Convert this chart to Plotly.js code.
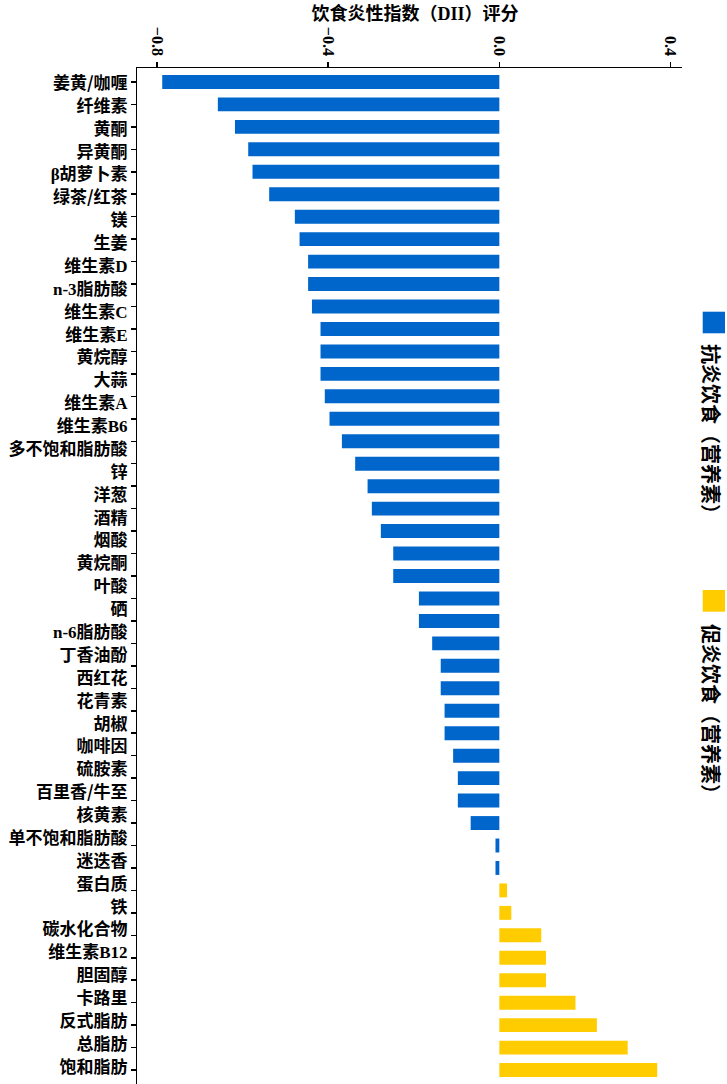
<!DOCTYPE html>
<html><head><meta charset="utf-8">
<script src="https://cdn.plot.ly/plotly-3.0.1.min.js"></script>
<style>html,body{margin:0;padding:0;background:#fff;} #chart{width:727px;height:1084px;}</style>
</head><body><div id="chart"></div>
<script>
// y-axis labels as printed (44 labels)
const labels = ['姜黄/咖喱','纤维素','黄酮','异黄酮','β胡萝卜素','绿茶/红茶','镁','生姜','维生素D','n-3脂肪酸',
  '维生素C','维生素E','黄烷醇','大蒜','维生素A','维生素B6','多不饱和脂肪酸','锌','洋葱','酒精',
  '烟酸','黄烷酮','叶酸','硒','n-6脂肪酸','丁香油酚','西红花','花青素','胡椒','咖啡因',
  '硫胺素','百里香/牛至','核黄素','单不饱和脂肪酸','迷迭香','蛋白质','铁','碳水化合物','维生素B12','胆固醇',
  '卡路里','反式脂肪','总脂肪','饱和脂肪'];
// DII scores of the 45 drawn bars, top to bottom
const dii = [-0.788,-0.658,-0.618,-0.587,-0.577,-0.538,-0.478,-0.467,-0.447,-0.447,
  -0.438,-0.418,-0.418,-0.418,-0.408,-0.397,-0.368,-0.337,-0.308,-0.298,
  -0.277,-0.248,-0.248,-0.188,-0.188,-0.157,-0.137,-0.137,-0.128,-0.128,
  -0.108,-0.097,-0.097,-0.067,-0.009,-0.009,0.018,0.028,0.098,0.109,
  0.109,0.178,0.228,0.300,0.369];
const xTickVals = [-0.8,-0.4,0,0.4];
const xTickText = ['−0.8','−0.4','0.0','0.4'];
const legendNames = ['抗炎饮食（营养素）','促炎饮食（营养素）'];
const titleText = '饮食炎性指数（DII）评分';

const BLUE = '#0066cc', YELLOW = '#ffcc00';
const serif = s => s.replace(/([A-Za-z0-9β\-]+)/g, '<span style="font-family:Liberation Serif">$1</span>');

const W = 727, H = 1084;
const M = {l:137, r:45, t:68, b:0};
const pw = W - M.l - M.r, ph = H - M.t - M.b;
const px2x = px => (px - M.l) / pw;
const px2y = py => (H - M.b - py) / ph;

const barIdx = dii.map((_, i) => i);
const labIdx = labels.map((_, i) => i);

const traces = [
  {type:'bar', orientation:'h', x:dii, y:barIdx, width:0.62,
   marker:{color:dii.map(v => v < 0 ? BLUE : YELLOW)}, showlegend:false, hoverinfo:'x'},
  {type:'scatter', mode:'markers', x:[0], y:[0], yaxis:'y2',
   marker:{size:1, opacity:0}, showlegend:false, hoverinfo:'skip'}
];

const shapes = [], annotations = [];
const legY = [[311.7, 333.3, 434], [590, 611.7, 714]];
[BLUE, YELLOW].forEach((c, i) => {
  shapes.push({type:'rect', xref:'paper', yref:'paper',
    x0:px2x(702.7), x1:px2x(725), y0:px2y(legY[i][1]), y1:px2y(legY[i][0]),
    fillcolor:c, line:{width:0}});
  annotations.push({xref:'paper', yref:'paper', x:px2x(712), y:px2y(legY[i][2]),
    xanchor:'center', yanchor:'middle', text:legendNames[i], textangle:90, showarrow:false,
    font:{family:'Noto Sans CJK SC', size:20, weight:'bold', color:'#000'}});
});

const layout = {
  width:W, height:H, margin:M, paper_bgcolor:'#fff', plot_bgcolor:'#fff',
  title:{text:titleText.replace('DII', '<span style="font-family:Liberation Serif">DII</span>'),
    font:{family:'Noto Sans CJK SC', size:18, weight:'bold', color:'#000'},
    x:415/W, xref:'container', xanchor:'center', y:1 - 14/H, yref:'container', yanchor:'middle'},
  xaxis:{side:'top', range:[-0.847, 0.427], tickmode:'array', tickvals:xTickVals, ticktext:xTickText,
    tickangle:90, ticks:'outside', ticklen:5, tickwidth:1.5, tickcolor:'#000',
    showline:true, linewidth:1.5, linecolor:'#000', showgrid:false, zeroline:false,
    tickfont:{family:'Liberation Serif', size:16, weight:'bold', color:'#000'}},
  yaxis:{range:[44.62, -0.62], tickmode:'array', tickvals:barIdx, showticklabels:false,
    ticks:'outside', ticklen:5, tickwidth:1.5, tickcolor:'#000',
    showline:true, linewidth:1.5, linecolor:'#000', showgrid:false, zeroline:false},
  yaxis2:{overlaying:'y', side:'left', anchor:'x', range:[43.756, -0.656], tickmode:'array',
    tickvals:labIdx, ticktext:labels.map(serif), ticks:'outside', ticklen:5, tickcolor:'rgba(0,0,0,0)',
    showline:false, showgrid:false, zeroline:false,
    tickfont:{family:'Noto Sans CJK SC', size:17, weight:'bold', color:'#000'}},
  shapes, annotations, bargap:0.38
};
Plotly.newPlot('chart', traces, layout, {displayModeBar:false, staticPlot:true});
</script></body></html>
